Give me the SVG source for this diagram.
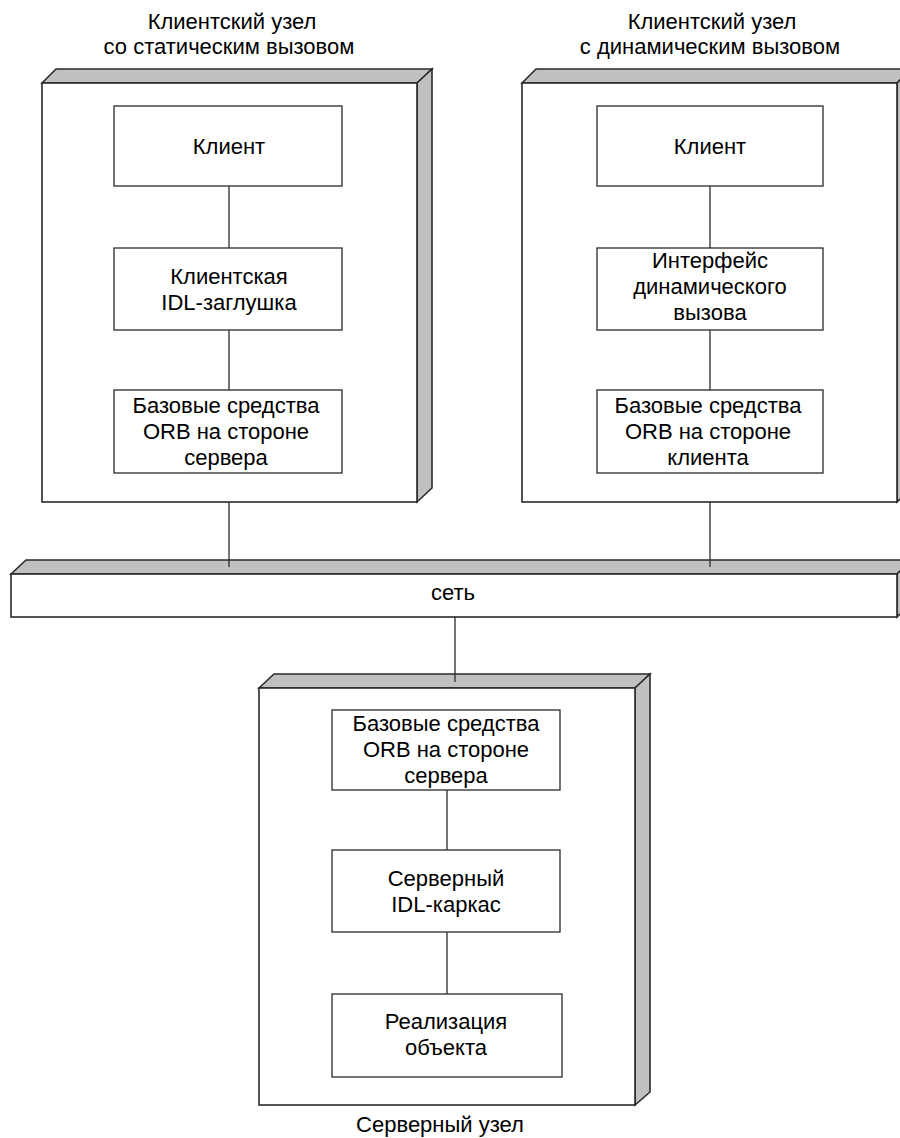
<svg xmlns="http://www.w3.org/2000/svg" width="900" height="1138" viewBox="0 0 900 1138">
  <style>
    .face { fill: #ffffff; stroke: #2a2a2a; stroke-width: 1.6; }
    .shade { fill: #c0c0c0; stroke: #2a2a2a; stroke-width: 1.6; stroke-linejoin: miter; }
    .box { fill: #ffffff; stroke: #2a2a2a; stroke-width: 1.3; }
    .link { stroke: #2a2a2a; stroke-width: 1.3; fill: none; }
    text { font-family: "Liberation Sans", Arial, sans-serif; font-size: 22px; fill: #000; text-anchor: middle; }
  </style>
  <rect width="900" height="1138" fill="#ffffff"/>

  <!-- Client node, static invocation -->
  <g id="node-static">
    <text x="232" y="29">Клиентский узел</text>
    <text x="229" y="54">со статическим вызовом</text>
    <polygon class="shade" points="42,83 56,69 432,69 417,83"/>
    <polygon class="shade" points="417,83 432,69 432,488 417,502"/>
    <rect class="face" x="42" y="83" width="375" height="419"/>
  </g>

  <!-- Client node, dynamic invocation -->
  <g id="node-dynamic">
    <text x="712" y="29">Клиентский узел</text>
    <text x="710" y="54">с динамическим вызовом</text>
    <polygon class="shade" points="522,83 536,69 912,69 897,83"/>
    <polygon class="shade" points="897,83 912,69 912,488 897,502"/>
    <rect class="face" x="522" y="83" width="375" height="419"/>
  </g>

  <!-- Network bar -->
  <g id="network">
    <polygon class="shade" points="11,574 26,560 912,560 897,574"/>
    <polygon class="shade" points="897,574 912,560 912,603 897,617"/>
    <rect class="face" x="11" y="574" width="886" height="43"/>
    <text x="453" y="600">сеть</text>
  </g>

  <!-- Server node -->
  <g id="node-server">
    <polygon class="shade" points="259,688 274,674 650,674 635,688"/>
    <polygon class="shade" points="635,688 650,674 650,1092 635,1105"/>
    <rect class="face" x="259" y="688" width="376" height="417"/>
    <text x="440" y="1132">Серверный узел</text>
  </g>

  <!-- Connectors -->
  <g id="connectors">
    <line class="link" x1="229" y1="186" x2="229" y2="248"/>
    <line class="link" x1="229" y1="330" x2="229" y2="390"/>
    <line class="link" x1="710" y1="186" x2="710" y2="248"/>
    <line class="link" x1="710" y1="330" x2="710" y2="390"/>
    <line class="link" x1="229" y1="502" x2="229" y2="567"/>
    <line class="link" x1="710" y1="502" x2="710" y2="567"/>
    <line class="link" x1="455" y1="617" x2="455" y2="682"/>
    <line class="link" x1="447" y1="790" x2="447" y2="850"/>
    <line class="link" x1="447" y1="932" x2="447" y2="994"/>
  </g>

  <!-- Static client components -->
  <g id="s-client">
    <rect class="box" x="114" y="106" width="228" height="80"/>
    <text x="229" y="154">Клиент</text>
  </g>
  <g id="s-stub">
    <rect class="box" x="114" y="248" width="228" height="82"/>
    <text x="229" y="284">Клиентская</text>
    <text x="229" y="310">IDL-заглушка</text>
  </g>
  <g id="s-orb">
    <rect class="box" x="114" y="390" width="228" height="83"/>
    <text x="226" y="413">Базовые средства</text>
    <text x="226" y="439">ORB на стороне</text>
    <text x="226" y="465">сервера</text>
  </g>

  <!-- Dynamic client components -->
  <g id="d-client">
    <rect class="box" x="597" y="106" width="226" height="80"/>
    <text x="710" y="154">Клиент</text>
  </g>
  <g id="d-dii">
    <rect class="box" x="597" y="248" width="226" height="82"/>
    <text x="710" y="268">Интерфейс</text>
    <text x="710" y="294">динамического</text>
    <text x="710" y="320">вызова</text>
  </g>
  <g id="d-orb">
    <rect class="box" x="597" y="390" width="226" height="83"/>
    <text x="708" y="413">Базовые средства</text>
    <text x="708" y="439">ORB на стороне</text>
    <text x="708" y="465">клиента</text>
  </g>

  <!-- Server components -->
  <g id="sv-orb">
    <rect class="box" x="332" y="710" width="228" height="80"/>
    <text x="446" y="731">Базовые средства</text>
    <text x="446" y="757">ORB на стороне</text>
    <text x="446" y="783">сервера</text>
  </g>
  <g id="sv-skeleton">
    <rect class="box" x="332" y="850" width="228" height="82"/>
    <text x="446" y="886">Серверный</text>
    <text x="446" y="912">IDL-каркас</text>
  </g>
  <g id="sv-impl">
    <rect class="box" x="332" y="994" width="230" height="83"/>
    <text x="446" y="1029">Реализация</text>
    <text x="446" y="1055">объекта</text>
  </g>
</svg>
